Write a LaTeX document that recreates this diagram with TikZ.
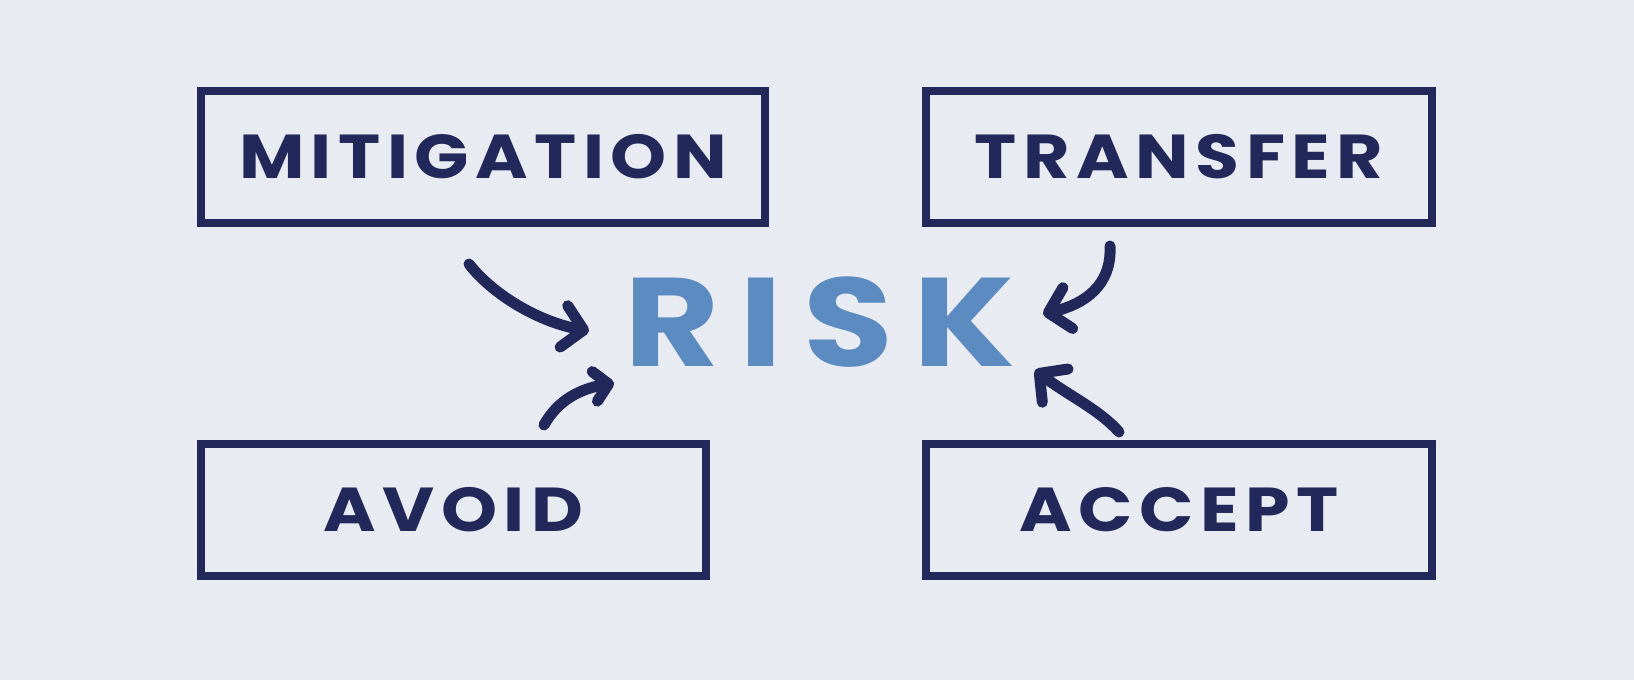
\documentclass[tikz,border=0pt]{standalone}
\usepackage{fontspec}
\usetikzlibrary{arrows.meta}
\newfontfamily\boxfont[LetterSpace=10.5,FakeStretch=1.15]{Poppins}
\newfontfamily\riskfont[LetterSpace=16,FakeStretch=1.16]{Poppins}
\definecolor{bgc}{HTML}{E8EBF1}
\definecolor{navy}{HTML}{23285A}
\definecolor{riskblue}{HTML}{5B8BC0}
\tikzset{
  optbox/.style={draw=navy, line width=4pt, minimum height=66pt, inner sep=0pt,
    text=navy, font=\boxfont\bfseries\fontsize{31}{31}\selectfont},
  riskarrow/.style={draw=navy, line width=5.5pt, line cap=round,
    -{Straight Barb[length=10pt,width=21pt,round]}},
  smallhead/.style={-{Straight Barb[length=7pt,width=15pt,round]}},
}
\begin{document}
\begin{tikzpicture}[x=0.5pt,y=-0.5pt]
\fill[bgc] (0,0) rectangle (1634,680);
\useasboundingbox (0,0) rectangle (1634,680);
\node[optbox, minimum width=282pt] (mit) at (483,157) {MITIGATION};
\node[optbox, minimum width=253pt] (tra) at (1179,157) {TRANSFER};
\node[optbox, minimum width=252.5pt] (avo) at (453.5,510) {AVOID};
\node[optbox, minimum width=253pt] (acc) at (1179,510) {ACCEPT};
\node[text=riskblue, font=\riskfont\bfseries\fontsize{63}{63}\selectfont, inner sep=0pt] (risk) at (820,322) {RISK};
% arrow end points
\coordinate (m1) at (469,264);
\coordinate (m2) at (589,331);
\coordinate (v1) at (544,425);
\coordinate (v2) at (614,383);
\coordinate (t1) at (1110,246);
\coordinate (t2) at (1043,314);
\coordinate (a1) at (1119,432);
\coordinate (a2) at (1035,370);
\draw[riskarrow] (m1) .. controls (494,296) and (540,322) .. (m2);
\draw[riskarrow, smallhead] (v1) .. controls (558,400) and (580,389) .. (v2);
\draw[riskarrow] (t1) .. controls (1112,285) and (1085,304) .. (t2);
\draw[riskarrow] (a1) .. controls (1100,410) and (1066,394) .. (a2);
\end{tikzpicture}
\end{document}
